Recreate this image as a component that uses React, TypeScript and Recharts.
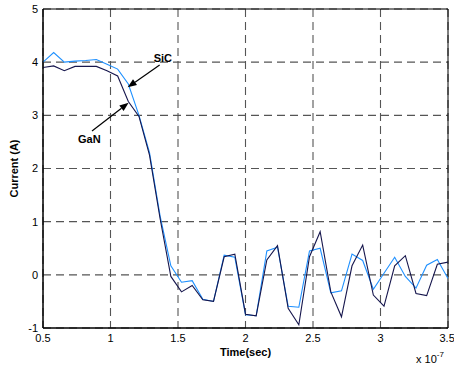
import React from 'react';
import {
  LineChart,
  Line,
  XAxis,
  YAxis,
  CartesianGrid,
  ReferenceArea,
  ReferenceLine,
  Label,
} from 'recharts';

const timeValues = [
  0.5, 0.579, 0.658, 0.737, 0.816, 0.895, 0.974, 1.053, 1.132, 1.211,
  1.289, 1.368, 1.447, 1.526, 1.605, 1.684, 1.763, 1.842, 1.921, 2.0,
  2.079, 2.158, 2.237, 2.316, 2.395, 2.474, 2.553, 2.632, 2.711, 2.789,
  2.868, 2.947, 3.026, 3.105, 3.184, 3.263, 3.342, 3.421, 3.5,
];

const sicCurrent = [
  4.0, 4.18, 4.0, 4.02, 4.03, 4.05, 3.96, 3.87, 3.59, 3.0,
  2.3, 1.1, 0.17, -0.14, -0.11, -0.46, -0.5, 0.37, 0.33, -0.75,
  -0.77, 0.45, 0.52, -0.59, -0.61, 0.45, 0.5, -0.34, -0.3, 0.39,
  0.27, -0.27, 0.03, 0.33, -0.03, -0.25, 0.18, 0.29, -0.07,
];

const ganCurrent = [
  3.9, 3.93, 3.84, 3.92, 3.92, 3.92, 3.84, 3.74, 3.26, 2.98,
  2.25, 1.05, -0.03, -0.32, -0.2, -0.47, -0.5, 0.34, 0.39, -0.74,
  -0.77, 0.28, 0.55, -0.63, -0.94, 0.34, 0.81, -0.32, -0.79, 0.17,
  0.56, -0.38, -0.59, 0.17, 0.36, -0.35, -0.39, 0.2, 0.24,
];

const xTicks = [0.5, 1, 1.5, 2, 2.5, 3, 3.5];
const yTicks = [-1, 0, 1, 2, 3, 4, 5];

// annotation arrows: [tail, head] in data coordinates
const sicArrow = { label: 'SiC', x1: 1.364, y1: 3.947, x2: 1.127, y2: 3.527 };
const ganArrow = { label: 'GaN', x1: 0.863, y1: 2.705, x2: 1.134, y2: 3.238 };

const data = timeValues.map((t, i) => ({ t, sic: sicCurrent[i], gan: ganCurrent[i] }));

const FONT = '"Liberation Sans", Arial, Helvetica, sans-serif';

const makeArrowShape = (label: string, dx: number, dy: number) => (props: any) => {
  const { x1, y1, x2, y2 } = props;
  if (x1 == null || x2 == null) return null;
  const ang = Math.atan2(y2 - y1, x2 - x1);
  const len = 9;
  const w = 3.5;
  const bx = x2 - len * Math.cos(ang);
  const by = y2 - len * Math.sin(ang);
  const px = -Math.sin(ang) * w;
  const py = Math.cos(ang) * w;
  return (
    <g>
      <line x1={x1} y1={y1} x2={bx} y2={by} stroke="#000" strokeWidth={1.2} />
      <polygon
        points={`${x2},${y2} ${bx + px},${by + py} ${bx - px},${by - py}`}
        fill="#000"
      />
      <text
        x={x1 + dx}
        y={y1 + dy}
        fontFamily={FONT}
        fontSize={11}
        fontWeight="bold"
        fill="#000"
      >
        {label}
      </text>
    </g>
  );
};

const ExponentLabel = (props: any) => {
  const vb = props.viewBox || {};
  const right = (vb.x || 0) + (vb.width || 0);
  const top = vb.y || 0;
  return (
    <text x={right - 32} y={top + 35} fontFamily={FONT} fontSize={11} fill="#000">
      x 10
      <tspan dy={-6} fontSize={8}>
        -7
      </tspan>
    </text>
  );
};

const YTitle = (props: any) => {
  const vb = props.viewBox || {};
  const cy = (vb.y || 0) + (vb.height || 0) / 2;
  return (
    <text
      x={17.5}
      y={cy}
      transform={`rotate(-90, 17.5, ${cy})`}
      textAnchor="middle"
      fontFamily={FONT}
      fontSize={11}
      fontWeight="bold"
      fill="#000"
    >
      Current (A)
    </text>
  );
};

export default function App() {
  return (
    <div style={{ position: 'absolute', left: 0, top: 0, background: '#fff' }}>
      <LineChart
        width={454}
        height={371}
        data={data}
        margin={{ top: 9, right: 6, left: 13, bottom: 0 }}
      >
        <CartesianGrid stroke="#555" strokeDasharray="8 5" strokeWidth={1.1} />
        <XAxis
          dataKey="t"
          type="number"
          domain={[0.5, 3.5]}
          ticks={xTicks}
          allowDataOverflow
          height={43}
          tickLine={false}
          tickSize={4}
          tickMargin={2}
          axisLine={{ stroke: '#000' }}
          tick={{ fill: '#000', fontSize: 11, fontFamily: FONT }}
          tickFormatter={(v: number) => String(v)}
        >
          <Label
            value="Time(sec)"
            position="insideBottom"
            offset={15}
            style={{ fontFamily: FONT, fontSize: 11, fontWeight: 'bold', fill: '#000' }}
          />
          <Label content={<ExponentLabel />} />
        </XAxis>
        <YAxis
          type="number"
          domain={[-1, 5]}
          ticks={yTicks}
          allowDataOverflow
          width={30}
          tickLine={false}
          tickSize={4}
          tickMargin={1}
          axisLine={{ stroke: '#000' }}
          tick={{ fill: '#000', fontSize: 11, fontFamily: FONT }}
        >
          <Label content={<YTitle />} />
        </YAxis>
        <ReferenceArea x1={0.5} x2={3.5} y1={-1} y2={5} fill="none" stroke="#000" strokeWidth={1} />
        <Line
          type="linear"
          dataKey="sic"
          stroke="#1e90ff"
          strokeWidth={1.1}
          dot={false}
          isAnimationActive={false}
        />
        <Line
          type="linear"
          dataKey="gan"
          stroke="#16164d"
          strokeWidth={1.1}
          dot={false}
          isAnimationActive={false}
        />
        <ReferenceLine
          segment={[
            { x: sicArrow.x1, y: sicArrow.y1 },
            { x: sicArrow.x2, y: sicArrow.y2 },
          ]}
          shape={makeArrowShape(sicArrow.label, -6, -3)}
        />
        <ReferenceLine
          segment={[
            { x: ganArrow.x1, y: ganArrow.y1 },
            { x: ganArrow.x2, y: ganArrow.y2 },
          ]}
          shape={makeArrowShape(ganArrow.label, -14, 12)}
        />
      </LineChart>
    </div>
  );
}
